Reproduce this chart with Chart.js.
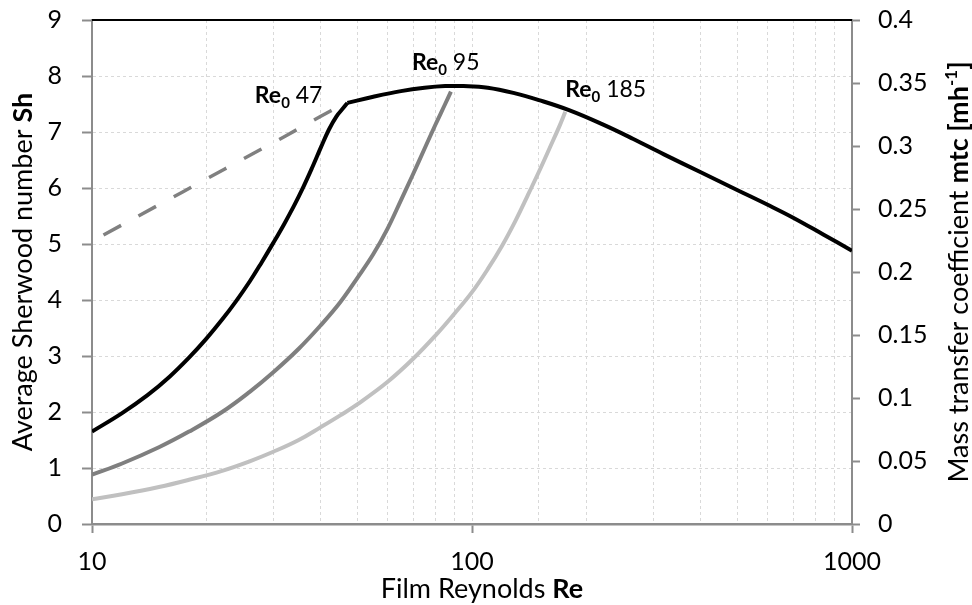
<!DOCTYPE html>
<html>
<head>
<meta charset="utf-8">
<script src="https://cdn.jsdelivr.net/npm/chart.js@4"></script>
<style>
  html, body { margin: 0; padding: 0; background: #fff; }
  #chart { display: block; }
</style>
</head>
<body>
<canvas id="chart" width="972" height="605"></canvas>
<script>
// Film Reynolds number Re (x) against average Sherwood number Sh (y)

// common envelope, peak near Re 95
const envelopeRe = [47, 55, 65, 75, 85, 95, 110, 130, 150, 180, 220, 265, 320, 400, 500, 600, 700, 840, 1000];
const envelopeSh = [7.52, 7.63, 7.73, 7.79, 7.82, 7.82, 7.79, 7.69, 7.57, 7.39, 7.14, 6.88, 6.60, 6.28, 5.96, 5.70, 5.47, 5.17, 4.88];

// developing curves, one per inlet Re0
const re47Re = [10, 12, 14, 16, 18, 20, 22, 24, 26, 28, 30, 32, 34, 36, 38, 40, 42, 44, 46, 47];
const re47Sh = [1.65, 1.98, 2.30, 2.63, 2.97, 3.31, 3.65, 3.99, 4.33, 4.68, 5.02, 5.35, 5.68, 6.02, 6.37, 6.72, 7.04, 7.28, 7.44, 7.52];

const re95Re = [10, 12, 15, 18, 22, 26, 30, 35, 40, 45, 50, 55, 60, 65, 70, 75, 80, 85, 88];
const re95Sh = [0.88, 1.08, 1.37, 1.65, 2.00, 2.36, 2.71, 3.13, 3.55, 3.96, 4.40, 4.82, 5.28, 5.78, 6.25, 6.70, 7.12, 7.50, 7.72];

const re185Re = [10, 12, 15, 18, 22, 26, 30, 35, 40, 45, 50, 60, 70, 80, 90, 100, 110, 120, 130, 140, 150, 160, 170, 176];
const re185Sh = [0.44, 0.53, 0.66, 0.79, 0.95, 1.12, 1.29, 1.50, 1.73, 1.94, 2.14, 2.54, 2.95, 3.36, 3.76, 4.14, 4.55, 4.97, 5.41, 5.86, 6.29, 6.71, 7.11, 7.36];

// dashed laminar line below Re 47
const laminarRe = [10, 15, 20, 25, 30, 35, 40, 45];
const laminarSh = [5.05, 5.70, 6.16, 6.52, 6.81, 7.06, 7.28, 7.47];

const xLabelTicks = [10, 100, 1000];
const re0Values = ['47', '95', '185'];

const FONT = 'Lato';
const GRID = '#d9d9d9';
const AXIS = '#8c8c8c';

const toPoints = (xs, ys) => xs.map((x, i) => ({ x: x, y: ys[i] }));

const line = (xs, ys, color, extra) => Object.assign({
    data: toPoints(xs, ys),
    borderColor: color,
    borderWidth: 4,
    pointRadius: 0,
    fill: false,
    tension: 0.4
}, extra || {});

// text in several runs (regular / bold / sub / sup)
const richWidth = (ctx, parts) => parts.reduce((w, p) => {
    ctx.font = (p.bold ? 'bold ' : '') + p.size + 'px ' + FONT;
    return w + ctx.measureText(p.text).width;
}, 0);

const drawRich = (ctx, parts, x, y) => {
    let cx = x;
    parts.forEach(p => {
        ctx.font = (p.bold ? 'bold ' : '') + p.size + 'px ' + FONT;
        ctx.fillText(p.text, cx, y + (p.dy || 0));
        cx += ctx.measureText(p.text).width;
    });
};

const re0Parts = (v) => [
    { text: 'Re', bold: true, size: 23 },
    { text: '0', bold: true, size: 15, dy: 5 },
    { text: ' ' + v, bold: false, size: 23 }
];

// keep the plot frame where it is: no extra room for half tick labels
const noPad = (s) => { s.paddingTop = 0; s.paddingBottom = 0; };

const decorations = {
    id: 'decorations',
    afterDraw(chart) {
        const ctx = chart.ctx;
        const area = chart.chartArea;
        const xs = chart.scales.x;
        const ys = chart.scales.y;
        ctx.save();

        // top frame line
        ctx.strokeStyle = '#000';
        ctx.lineWidth = 2;
        ctx.beginPath();
        ctx.moveTo(area.left, area.top);
        ctx.lineTo(area.right, area.top);
        ctx.stroke();

        ctx.fillStyle = '#000';
        ctx.textBaseline = 'alphabetic';
        ctx.textAlign = 'left';

        // Re0 labels at the top end of each developing curve
        const ends = [
            [re47Re[re47Re.length - 1], re47Sh[re47Sh.length - 1]],
            [re95Re[re95Re.length - 1], re95Sh[re95Sh.length - 1]],
            [re185Re[re185Re.length - 1], re185Sh[re185Sh.length - 1]]
        ];
        const offsets = [[-25, 0, 'right'], [-39, -22, 'left'], [0, -15, 'left']];
        ends.forEach((e, i) => {
            const px = xs.getPixelForValue(e[0]);
            const py = ys.getPixelForValue(e[1]);
            const parts = re0Parts(re0Values[i]);
            const w = richWidth(ctx, parts);
            const o = offsets[i];
            const left = o[2] === 'right' ? px + o[0] - w : px + o[0];
            drawRich(ctx, parts, left, py + o[1]);
        });

        // x axis title
        const xTitle = [
            { text: 'Film Reynolds ', size: 27 },
            { text: 'Re', bold: true, size: 27 }
        ];
        drawRich(ctx, xTitle, 482 - richWidth(ctx, xTitle) / 2, 598);

        // left axis title
        const yTitle = [
            { text: 'Average Sherwood number ', size: 27 },
            { text: 'Sh', bold: true, size: 27 }
        ];
        const midY = (area.top + area.bottom) / 2;
        ctx.save();
        ctx.translate(32, midY);
        ctx.rotate(-Math.PI / 2);
        drawRich(ctx, yTitle, -richWidth(ctx, yTitle) / 2, 0);
        ctx.restore();

        // right axis title
        const y1Title = [
            { text: 'Mass transfer coefficient ', size: 27 },
            { text: 'mtc [mh', bold: true, size: 27 },
            { text: '-1', bold: true, size: 17, dy: -11 },
            { text: ']', bold: true, size: 27 }
        ];
        ctx.save();
        ctx.translate(968, midY);
        ctx.rotate(-Math.PI / 2);
        drawRich(ctx, y1Title, -richWidth(ctx, y1Title) / 2, 0);
        ctx.restore();

        ctx.restore();
    }
};

const isDecade = (v) => xLabelTicks.some(t => Math.abs(t - v) < 1e-6);

const ctx = document.getElementById('chart').getContext('2d');
const chart = new Chart(ctx, {
    type: 'line',
    data: {
        datasets: [
            line(envelopeRe, envelopeSh, '#000000'),
            line(re47Re, re47Sh, '#000000'),
            line(re95Re, re95Sh, '#7f7f7f'),
            line(re185Re, re185Sh, '#c0c0c0'),
            line(laminarRe, laminarSh, '#808080', { borderWidth: 3.5, borderDash: [20, 20], borderDashOffset: 27 })
        ]
    },
    options: {
        responsive: false,
        devicePixelRatio: 1,
        animation: false,
        layout: { padding: { top: 20, left: 0, right: 0, bottom: 0 } },
        plugins: {
            legend: { display: false },
            tooltip: { enabled: false },
            title: { display: false }
        },
        scales: {
            x: {
                type: 'logarithmic',
                min: 10,
                max: 1000,
                afterFit: (s) => { s.height = 81; },
                border: { color: AXIS, width: 2.5, dash: [3, 3] },
                grid: {
                    color: GRID,
                    lineWidth: 1,
                    tickLength: 9,
                    tickWidth: 2,
                    tickBorderDash: [],
                    tickColor: (c) => (c.tick && isDecade(c.tick.value)) ? AXIS : 'rgba(0,0,0,0)'
                },
                ticks: {
                    autoSkip: false,
                    maxRotation: 0,
                    padding: 14,
                    color: '#000',
                    font: { family: FONT, size: 25 },
                    callback: (v) => isDecade(v) ? String(Math.round(v)) : ''
                }
            },
            y: {
                position: 'left',
                min: 0,
                max: 9,
                afterFit: (s) => { s.width = 92; noPad(s); },
                border: { color: AXIS, width: 2, dash: [3, 3] },
                grid: {
                    color: GRID,
                    lineWidth: 1,
                    tickLength: 10,
                    tickWidth: 2,
                    tickBorderDash: [],
                    tickColor: AXIS
                },
                ticks: {
                    stepSize: 1,
                    padding: 20,
                    color: '#000',
                    font: { family: FONT, size: 25 }
                }
            },
            y1: {
                position: 'right',
                min: 0,
                max: 0.4,
                afterFit: (s) => { s.width = 120; noPad(s); },
                border: { color: AXIS, width: 2 },
                grid: {
                    drawOnChartArea: false,
                    tickLength: 8,
                    tickWidth: 2,
                    tickColor: AXIS
                },
                ticks: {
                    stepSize: 0.05,
                    padding: 18,
                    color: '#000',
                    font: { family: FONT, size: 25 },
                    callback: (v) => String(Number(v.toFixed(2)))
                }
            }
        }
    },
    plugins: [decorations]
});
</script>
</body>
</html>
